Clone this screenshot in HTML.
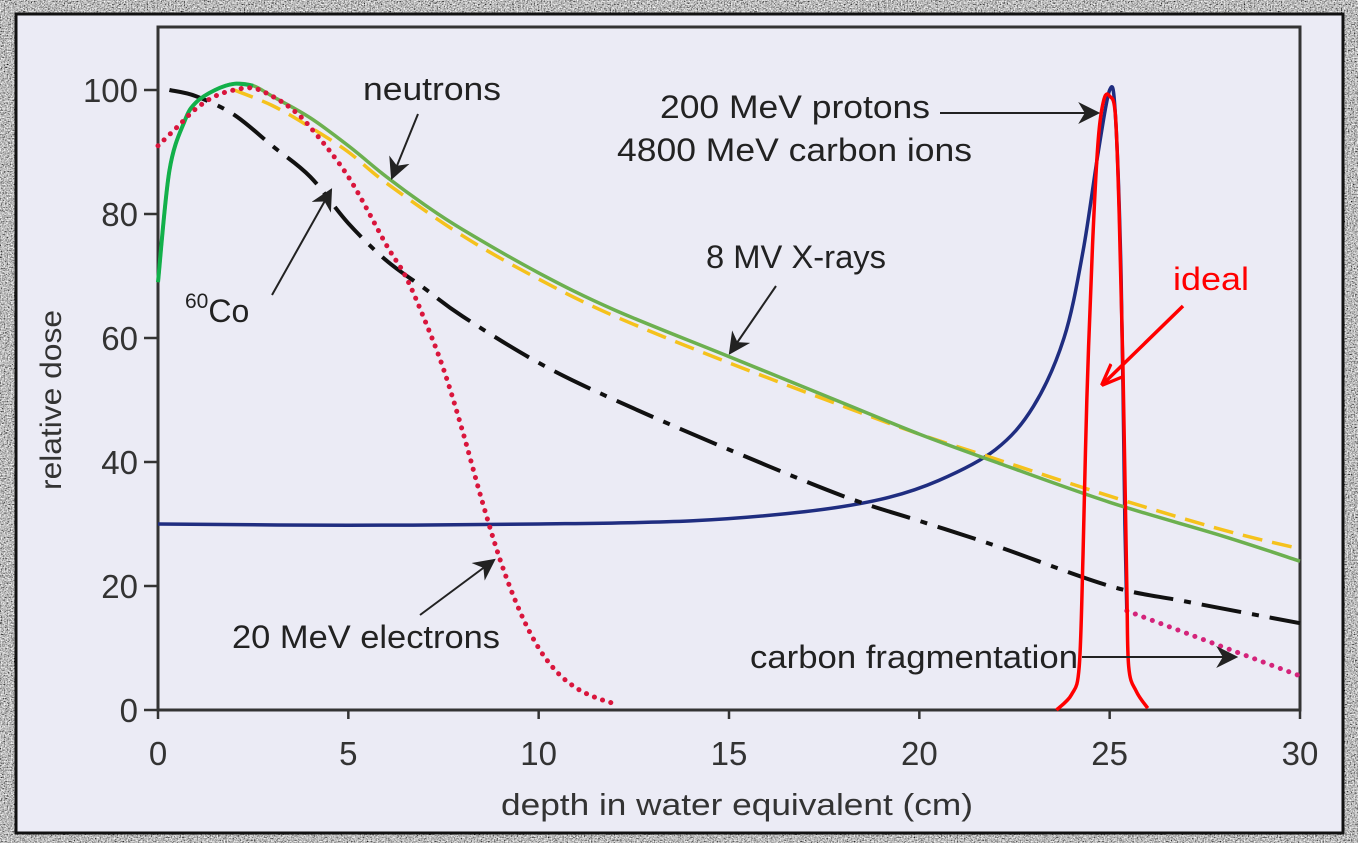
<!DOCTYPE html>
<html><head><meta charset="utf-8">
<style>
html,body{margin:0;padding:0;width:1358px;height:843px;overflow:hidden;background:#808080;}
svg{display:block;font-family:"Liberation Sans",sans-serif;}
</style></head>
<body>
<svg id="chart" width="1358" height="843" viewBox="0 0 1358 843">
<defs>
<filter id="noise" x="0" y="0" width="100%" height="100%">
<feTurbulence type="fractalNoise" baseFrequency="0.7" numOctaves="3" seed="3"/>
<feColorMatrix type="saturate" values="0"/>
<feComponentTransfer><feFuncR type="linear" slope="2.2" intercept="-0.6"/><feFuncG type="linear" slope="2.2" intercept="-0.6"/><feFuncB type="linear" slope="2.2" intercept="-0.6"/><feFuncA type="linear" slope="0" intercept="1"/></feComponentTransfer>
</filter>
<marker id="arrB" viewBox="0 0 10 10" refX="9" refY="5" markerWidth="22" markerHeight="22" orient="auto" markerUnits="userSpaceOnUse"><path d="M0,0 L10,5 L0,10 L3,5 z" fill="#222"/></marker>
<marker id="arrR" viewBox="0 0 10 10" refX="9" refY="5" markerWidth="22" markerHeight="22" orient="auto" markerUnits="userSpaceOnUse"><path d="M0,1 L10,5 L0,9" fill="none" stroke="#ff0000" stroke-width="1.5"/></marker>
</defs>
<rect x="0" y="0" width="1358" height="843" filter="url(#noise)"/>
<rect x="16" y="14" width="1327" height="819" fill="#ebebf5" stroke="#111" stroke-width="3"/>
<g id="plot"></g>
</svg>
<script>
const xTicks=[0,5,10,15,20,25,30];
const yTicks=[0,20,40,60,80,100];
const coX=[0.3,1,2,3,4,5,6,7,8,10,12,15,18,20,22,25,27,30];
const coY=[100,99,96,91,86,78.5,72.5,68,63.5,56,50,42,34.5,30.5,26.5,20,17.5,14];
const xrX=[0,0.3,0.7,1,1.5,2,2.5,3,4,5,6,7,8,10,12,15,18,20,22,25,28,30];
const xrY=[69,87,95,98,100,101,100.7,99,95.5,91,86,81.5,77.5,70.5,64.5,57,49.5,44.5,40,33.5,28,24];
const nX=[2,3,4,5,6,8,10,12,15,18,20,22,25,28,30];
const nY=[100,97.5,94,90,85,76.5,69.5,63.5,56,49,44.5,40.5,34.5,29,26];
const eX=[0,0.5,1,1.5,2,2.5,3,3.5,4,5,6,6.5,7,7.5,8,8.5,9,9.5,10,10.5,11,11.5,12];
const eY=[91,94,97,99,100,100.3,99,97,94,86,75,70,63,55,45,34,24,16,10,6,3.5,2,1];
const pX=[0,5,10,14,17,19,20.5,22,23,23.8,24.3,24.7,25,25.15,25.3,25.4,25.45];
const pY=[30,29.8,30,30.5,32,34,37,42,49,60,74,90,100,96,70,30,16];
const cfX=[25.45,30];
const cfY=[16,5.5];
const idX=[23.6,24,24.2,24.3,24.4,24.55,24.7,24.85,25,25.15,25.25,25.35,25.45,25.5,25.7,26];
const idY=[0,2.5,7,25,50,75,92,98.5,99,96,80,55,20,7,3,0.3];

const NS="http://www.w3.org/2000/svg";
const X0=158,X1=1300,Y0=710,Y1=90;
const sx=v=>X0+(X1-X0)*v/30;
const sy=v=>Y0+(Y1-Y0)*v/100;
const g=document.getElementById('plot');
function mk(tag,attrs,parent){const e=document.createElementNS(NS,tag);for(const k in attrs)e.setAttribute(k,attrs[k]);(parent||g).appendChild(e);return e;}
function path(xs,ys){const p=xs.map((x,i)=>[sx(x),sy(ys[i])]);let d="M"+p[0][0]+","+p[0][1];
 for(let i=0;i<p.length-1;i++){const a=p[i-1]||p[i],b=p[i],c=p[i+1],e=p[i+2]||c;
  d+=" C"+(b[0]+(c[0]-a[0])/6)+","+(b[1]+(c[1]-a[1])/6)+" "+(c[0]-(e[0]-b[0])/6)+","+(c[1]-(e[1]-b[1])/6)+" "+c[0]+","+c[1];}
 return d;}

let frame=mk('path',{d:`M${X0},27 L${X1},27 L${X1},${Y0} L${X0},${Y0} Z`,fill:'none',stroke:'#333',"stroke-width":3});


xTicks.forEach(t=>{
 const l=mk('line',{x1:sx(t),x2:sx(t),y1:Y0,y2:Y0+9,stroke:'#333',"stroke-width":2.5});
 
 
 const tx=mk('text',{x:sx(t),y:765,"text-anchor":"middle","font-size":33,fill:'#333'});tx.textContent=t;
 
 
});
yTicks.forEach(t=>{
 const l=mk('line',{x1:X0-14,x2:X0,y1:sy(t),y2:sy(t),stroke:'#333',"stroke-width":2.5});
 
 
 const tx=mk('text',{x:X0-20,y:sy(t)+12,"text-anchor":"end","font-size":33,fill:'#333'});tx.textContent=t;
 
 
});
let xt=mk('text',{x:737,y:815,"text-anchor":"middle","font-size":31,fill:'#333',textLength:472,lengthAdjust:"spacingAndGlyphs"});xt.textContent="depth in water equivalent (cm)";


let yt=mk('text',{x:0,y:0,transform:"translate(61,400) rotate(-90)","text-anchor":"middle","font-size":30,fill:'#333',textLength:180,lengthAdjust:"spacingAndGlyphs"});yt.textContent="relative dose";



let s;
s=mk('path',{d:path(pX,pY),fill:'none',stroke:'#1f2d80',"stroke-width":3.5});


s=mk('path',{d:path(cfX,cfY),fill:'none',stroke:'#d4237a',"stroke-width":5,"stroke-dasharray":"0.1 9","stroke-linecap":"round"});


s=mk('path',{d:path(coX,coY),fill:'none',stroke:'#111',"stroke-width":4,"stroke-dasharray":"40 11 7 11"});


s=mk('path',{d:path(nX,nY),fill:'none',stroke:'#f5c21c',"stroke-width":3.5,"stroke-dasharray":"20 10"});


s=mk('path',{d:path(xrX,xrY),fill:'none',stroke:'#6cb04f',"stroke-width":3.5});


s=mk('path',{d:path(xrX.slice(0,7),xrY.slice(0,7)),fill:'none',stroke:'#12b04a',"stroke-width":4});


s=mk('path',{d:path(eX,eY),fill:'none',stroke:'#d9153c',"stroke-width":5,"stroke-dasharray":"0.1 8.5","stroke-linecap":"round"});


s=mk('path',{d:path(idX,idY),fill:'none',stroke:'#ff0000',"stroke-width":3.5});



function lab(txt,x,y,name,len,color){const t=mk('text',{x:x,y:y,"font-size":32,fill:color||'#222'});if(len){t.setAttribute('textLength',len);t.setAttribute('lengthAdjust','spacingAndGlyphs');}t.textContent=txt;
 
 return t;}
function arrow(x1,y1,x2,y2,name,m,c,w){const a=mk('line',{x1:x1,y1:y1,x2:x2,y2:y2,stroke:c||'#222',"stroke-width":w||2,"marker-end":`url(#${m||'arrB'})`});
 
 }
lab("neutrons",363,100,'neutrons-label',138);
arrow(418,114,392,178,'neutrons-arrow');
lab("200 MeV protons",660,118,'protons-label',270);
lab("4800 MeV carbon ions",617,161,'carbon-ions-label',355);
arrow(940,113,1098,113,'protons-arrow');
lab("8 MV X-rays",706,268,'xrays-label',180);
arrow(776,286,730,353,'xrays-arrow');
lab("ideal",1173,290,'ideal-label',76,'#ff0000');
arrow(1183,306,1103,384,'ideal-arrow','arrR','#ff0000',3.5);
const co=mk('text',{x:185,y:322,"font-size":32,fill:'#222'});


co.innerHTML='<tspan font-size="21" dy="-14">60</tspan><tspan dy="14">Co</tspan>';
arrow(272,295,331,190,'cobalt60-arrow');
lab("20 MeV electrons",232,648,'electrons-label',268);
arrow(420,615,494,560,'electrons-arrow');
lab("carbon fragmentation",750,668,'carbon-fragmentation-label',328);
arrow(1082,657,1236,657,'carbon-fragmentation-arrow');
</script>
</body></html>
